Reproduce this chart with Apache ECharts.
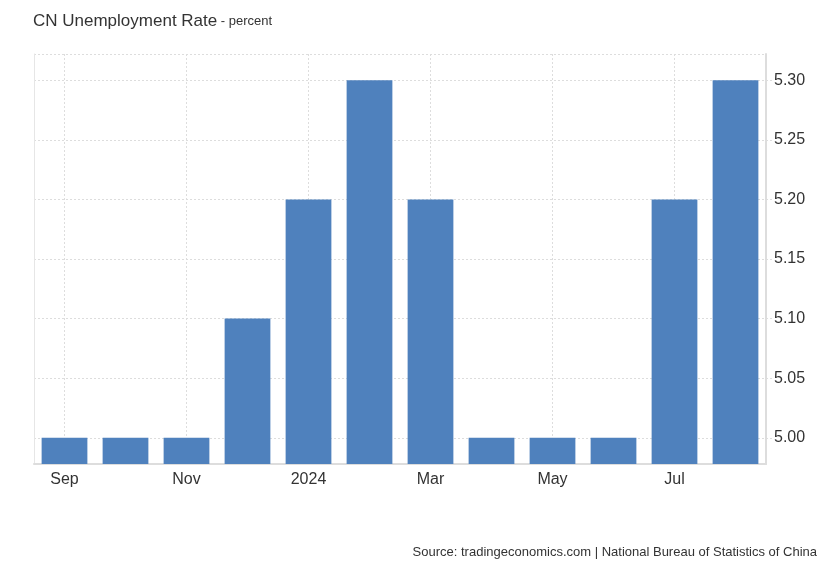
<!DOCTYPE html>
<html>
<head>
<meta charset="utf-8">
<script src="https://cdn.jsdelivr.net/npm/echarts@6/dist/echarts.min.js"></script>
<style>html,body{margin:0;padding:0;background:#fff}#c{width:830px;height:567px}</style>
</head>
<body>
<div id="c"></div>
<script>
const categories = ["Sep","Oct","Nov","Dec","2024","Feb","Mar","Apr","May","Jun","Jul","Aug"];
const values = [5.0, 5.0, 5.0, 5.1, 5.2, 5.3, 5.2, 5.0, 5.0, 5.0, 5.2, 5.3];
const yMin = 4.978, yMax = 5.322;

const chart = echarts.init(document.getElementById('c'));
const font = '"Liberation Sans", Arial, sans-serif';
chart.setOption({
  animation: false,
  textStyle: {fontFamily: font},
  title: {
    text: '{a|CN Unemployment Rate}{b| - percent}',
    left: 28, top: 8,
    textStyle: {fontWeight: 'normal', rich: {
      a: {fontSize: 17, color: '#333', fontFamily: font, fontWeight: 'normal'},
      b: {fontSize: 13, color: '#333', fontFamily: font, fontWeight: 'normal'}
    }}
  },
  graphic: [{
    type: 'text', right: 13, top: 546,
    style: {text: 'Source: tradingeconomics.com | National Bureau of Statistics of China', fontSize: 13, fill: '#333', font: '13px ' + font}
  }],
  grid: {left: 34, right: 64, top: 54, bottom: 103, containLabel: false},
  xAxis: {
    type: 'category', data: categories, boundaryGap: true,
    axisLine: {show: true, lineStyle: {color: '#ddd', width: 2}},
    axisTick: {show: false},
    axisLabel: {interval: 1, fontSize: 16, color: '#333', margin: 8, fontFamily: font},
    splitLine: {show: true, interval: 1, alignWithLabel: true, lineStyle: {color: '#ddd', type: [2, 2]}}
  },
  yAxis: [{
    type: 'value', position: 'right', min: yMin, max: yMax, splitNumber: 5,
    axisLine: {show: true, lineStyle: {color: '#ddd', width: 2}},
    axisTick: {show: true, length: 6, lineStyle: {color: '#ddd', type: [2, 2]}},
    axisLabel: {showMinLabel: false, showMaxLabel: false, fontSize: 16, color: '#333', margin: 8, fontFamily: font,
      formatter: v => v.toFixed(2)},
    splitLine: {show: true, lineStyle: {color: '#ddd', type: [2, 2]}}
  }, {
    type: 'value', position: 'left', min: yMin, max: yMax,
    axisLine: {show: true, lineStyle: {color: '#e6e6e6', width: 1}},
    axisTick: {show: false}, axisLabel: {show: false}, splitLine: {show: false}
  }],
  series: [{
    type: 'bar', data: values, barCategoryGap: '25%',
    itemStyle: {color: '#4f81bd'}
  }]
});
</script>
</body>
</html>
